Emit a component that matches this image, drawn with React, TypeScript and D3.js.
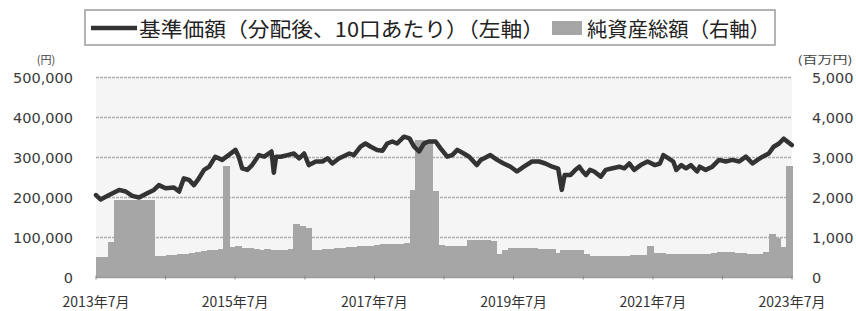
import { timeParse, scaleTime, scaleLinear, line, timeMonth, timeYear } from "d3";

const W = 856;
const H = 311;
const margin = { top: 77.5, right: 64, bottom: 33.5, left: 96 };
const innerW = W - margin.left - margin.right; // 696
const innerH = H - margin.top - margin.bottom; // 200

// 基準価額（円）
const navDates = [
  "2013-07-01", "2013-07-25", "2013-09-08", "2013-10-30", "2013-12-04", "2014-01-07", "2014-02-12", "2014-03-24",
  "2014-05-01", "2014-05-27", "2014-07-01", "2014-08-14", "2014-09-10", "2014-10-05", "2014-11-01", "2014-11-27",
  "2014-12-23", "2015-01-19", "2015-02-15", "2015-03-19", "2015-04-24", "2015-05-28", "2015-07-03", "2015-07-20",
  "2015-08-07", "2015-09-03", "2015-09-28", "2015-11-03", "2015-12-01", "2016-01-08", "2016-01-20", "2016-02-01",
  "2016-02-25", "2016-04-01", "2016-05-04", "2016-06-01", "2016-06-27", "2016-07-22", "2016-08-28", "2016-10-01",
  "2016-10-28", "2016-11-22", "2016-12-28", "2017-01-15", "2017-02-19", "2017-03-15", "2017-04-19", "2017-05-15",
  "2017-06-12", "2017-07-15", "2017-08-12", "2017-09-06", "2017-10-03", "2017-10-28", "2017-12-03", "2018-01-01",
  "2018-01-25", "2018-02-20", "2018-03-18", "2018-04-12", "2018-05-18", "2018-06-13", "2018-07-18", "2018-08-13",
  "2018-09-09", "2018-10-13", "2018-11-10", "2018-12-20", "2019-01-10", "2019-01-28", "2019-03-01", "2019-04-06",
  "2019-05-10", "2019-06-15", "2019-07-19", "2019-08-24", "2019-10-06", "2019-11-12", "2019-12-15", "2020-01-20",
  "2020-02-20", "2020-03-10", "2020-03-25", "2020-04-25", "2020-05-20", "2020-06-10", "2020-06-28", "2020-07-15",
  "2020-08-05", "2020-08-27", "2020-10-01", "2020-10-27", "2020-12-01", "2021-01-06", "2021-02-01", "2021-02-27",
  "2021-03-25", "2021-04-28", "2021-06-03", "2021-07-12", "2021-08-07", "2021-08-25", "2021-09-21", "2021-10-16",
  "2021-11-01", "2021-11-27", "2021-12-22", "2022-01-16", "2022-02-18", "2022-03-04", "2022-04-04", "2022-05-09",
  "2022-06-13", "2022-07-18", "2022-08-22", "2022-09-27", "2022-11-01", "2022-12-06", "2023-01-01", "2023-01-28",
  "2023-03-01", "2023-03-27", "2023-04-24", "2023-05-19", "2023-06-06", "2023-06-30",
];
const navValues = [
  206000, 195000, 206000, 219000, 215000, 204000, 200000, 210000,
  219000, 231000, 223000, 225000, 215000, 248000, 244000, 231000,
  248000, 269000, 277000, 302000, 294000, 306000, 319000, 302000,
  273000, 269000, 281000, 306000, 302000, 315000, 262000, 302000,
  302000, 306000, 310000, 298000, 310000, 281000, 290000, 290000,
  298000, 285000, 298000, 302000, 310000, 306000, 327000, 335000,
  327000, 319000, 317000, 335000, 340000, 335000, 352000, 348000,
  327000, 315000, 335000, 340000, 340000, 323000, 302000, 306000,
  319000, 310000, 302000, 281000, 294000, 298000, 306000, 294000,
  285000, 277000, 265000, 277000, 290000, 290000, 285000, 277000,
  272000, 219000, 256000, 256000, 269000, 277000, 265000, 256000,
  269000, 265000, 252000, 269000, 273000, 277000, 273000, 285000,
  269000, 281000, 290000, 281000, 285000, 306000, 298000, 290000,
  269000, 281000, 273000, 281000, 265000, 277000, 269000, 277000,
  294000, 290000, 294000, 290000, 302000, 285000, 294000, 302000,
  310000, 327000, 335000, 347000, 340000, 331000,
];

// 純資産総額（百万円）, monthly from 2013-07 to 2023-06
const assetStart = "2013-07-01";
const assetValues = [
  505, 505, 900, 1940, 1950, 1950, 1950, 1950, 1950, 1950, 540, 550,
  560, 570, 590, 600, 620, 640, 660, 690, 700, 720, 2800, 760,
  780, 750, 730, 720, 700, 710, 700, 690, 700, 720, 1330, 1300,
  1250, 700, 700, 710, 720, 730, 740, 760, 770, 790, 800, 800,
  810, 830, 840, 850, 850, 860, 2190, 3440, 3450, 3400, 2170, 810,
  800, 800, 790, 800, 940, 940, 940, 930, 920, 600, 680, 730,
  730, 740, 730, 730, 720, 720, 720, 610, 690, 690, 690, 690,
  600, 540, 540, 540, 540, 550, 550, 550, 560, 560, 570, 780,
  620, 610, 600, 600, 590, 590, 580, 580, 590, 600, 620, 630,
  640, 630, 620, 610, 600, 590, 600, 640, 1100, 1000, 760, 2800,
];

const leftTicks = [0, 100000, 200000, 300000, 400000, 500000];
const rightTicks = [0, 1000, 2000, 3000, 4000, 5000];
const xLabelYears = [2013, 2015, 2017, 2019, 2021, 2023];

const legendNav = "基準価額（分配後、10口あたり）（左軸）";
const legendAsset = "純資産総額（右軸）";

const parse = timeParse("%Y-%m-%d");
const fmt = (v: number) => v.toLocaleString("en-US");

export default function App() {
  const x0 = parse("2013-07-01")!;
  const x1 = parse("2023-07-01")!;
  const xScale = scaleTime().domain([x0, x1]).range([0, innerW]);
  const yLeft = scaleLinear().domain([0, 500000]).range([innerH, 0]);
  const yRight = scaleLinear().domain([0, 5000]).range([innerH, 0]);

  const months = timeMonth.range(parse(assetStart)!, x1);
  const bars = months.map((m, i) => ({ m, next: timeMonth.offset(m, 1), v: assetValues[i] }));

  const navData = navDates.map((d, i) => ({ d: parse(d)!, v: navValues[i] }));
  const navPath = line<{ d: Date; v: number }>()
    .x((p) => xScale(p.d))
    .y((p) => yLeft(p.v))(navData);

  const yearTicks = timeYear.every(1)!.range(x0, timeMonth.offset(x1, 1)).map((d) => timeMonth.offset(d, 6));
  const tickDates = [x0, ...yearTicks].filter((d) => d >= x0 && d <= x1);

  const numFont = "'DejaVu Sans', Verdana, sans-serif";
  const jpFont = "'Noto Sans CJK JP', 'DejaVu Sans', sans-serif";

  return (
    <svg width={W} height={H} style={{ position: "absolute", left: 0, top: 0, background: "#fff" }}>
      {/* legend */}
      <rect x={85} y={10} width={690} height={35} fill="#fff" stroke="#9a9a9a" strokeWidth={1.5} />
      <line x1={91} y1={28} x2={137} y2={28} stroke="#333" strokeWidth={4.5} />
      <text x={139} y={28} dominantBaseline="central" fontFamily={jpFont} fontSize={20.5}
        fill="#222" textLength={405} lengthAdjust="spacingAndGlyphs">{legendNav}</text>
      <rect x={552} y={21} width={30} height={14} fill="#a6a6a6" />
      <text x={587} y={28} dominantBaseline="central" fontFamily={jpFont} fontSize={20.5}
        fill="#222" textLength={183} lengthAdjust="spacingAndGlyphs">{legendAsset}</text>

      {/* units */}
      <text x={46} y={59} textAnchor="middle" dominantBaseline="central" fontFamily={jpFont}
        fontSize={11} fill="#444">(円)</text>
      <text x={825} y={59} textAnchor="middle" dominantBaseline="central" fontFamily={jpFont}
        fontSize={11} fill="#444" textLength={55} lengthAdjust="spacingAndGlyphs">(百万円)</text>

      <g transform={`translate(${margin.left},${margin.top})`}>
        <rect x={0} y={0} width={innerW} height={innerH} fill="#f5f5f5" />
        {leftTicks.slice(1).map((t) => (
          <line key={t} x1={0} x2={innerW} y1={yLeft(t)} y2={yLeft(t)} stroke="#b0b0b0"
            strokeWidth={1.6} strokeDasharray="3 1" />
        ))}

        <g shapeRendering="crispEdges">
          {bars.map((b, i) => (
            <rect key={i} x={xScale(b.m)} y={yRight(b.v)}
              width={xScale(b.next) - xScale(b.m) + 1} height={innerH - yRight(b.v)} fill="#a6a6a6" />
          ))}
        </g>

        <line x1={0} x2={innerW} y1={innerH} y2={innerH} stroke="#9a9a9a" strokeWidth={1.5} />
        {tickDates.map((d, i) => (
          <line key={i} x1={xScale(d)} x2={xScale(d)} y1={innerH - 2} y2={innerH + 2} stroke="#888" strokeWidth={1} />
        ))}

        <path d={navPath ?? ""} fill="none" stroke="#333" strokeWidth={4.5} strokeLinejoin="round" strokeLinecap="round" />

        {leftTicks.map((t) => (
          <text key={t} x={-23} y={yLeft(t)} textAnchor="end" dominantBaseline="central"
            fontFamily={numFont} fontSize={14.5} fill="#3a3a3a">{fmt(t)}</text>
        ))}
        {rightTicks.map((t) => (
          <text key={t} x={innerW + 20} y={yRight(t)} textAnchor="start" dominantBaseline="central"
            fontFamily={numFont} fontSize={14.5} fill="#3a3a3a">{fmt(t)}</text>
        ))}
        {xLabelYears.map((yr) => (
          <text key={yr} x={xScale(parse(`${yr}-07-01`)!)} y={innerH + 23} textAnchor="middle"
            dominantBaseline="central" fontFamily={jpFont} fontSize={14} fill="#333">
            {`${yr}年7月`}
          </text>
        ))}
      </g>
    </svg>
  );
}
